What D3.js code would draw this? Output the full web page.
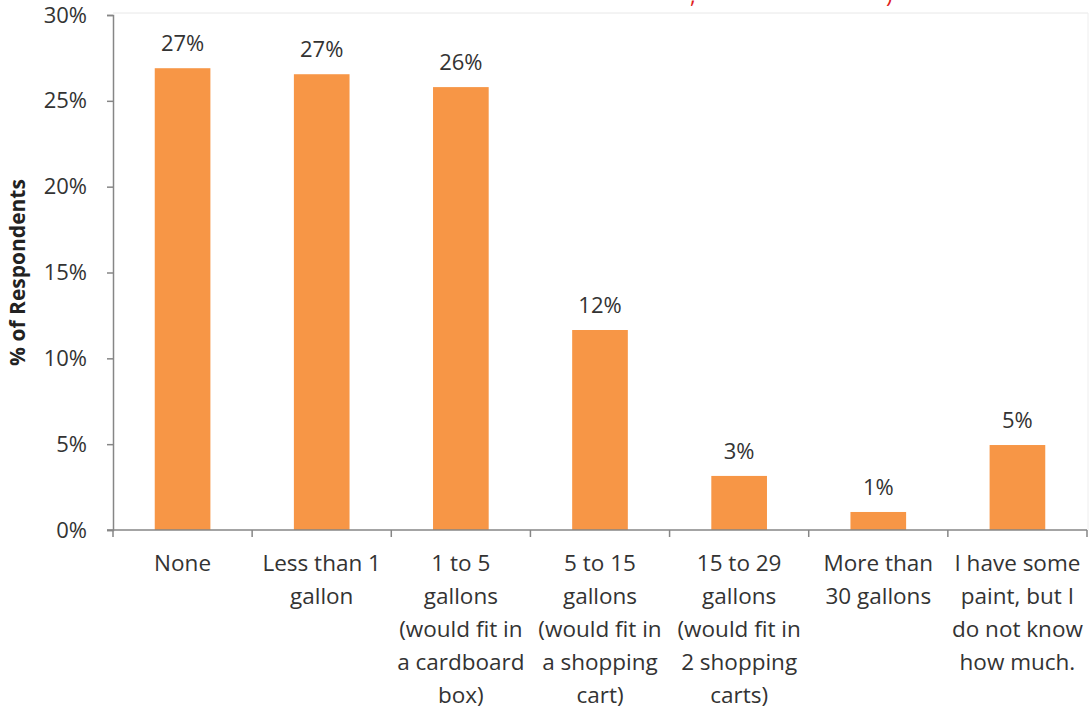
<!DOCTYPE html>
<html><head><meta charset="utf-8">
<script src="https://cdn.jsdelivr.net/npm/d3@7"></script>
<style>body{margin:0;background:#fff;}svg{display:block;}</style>
</head><body>
<script>
const categories = [
  ["None"],
  ["Less than 1", "gallon"],
  ["1 to 5", "gallons", "(would fit in", "a cardboard", "box)"],
  ["5 to 15", "gallons", "(would fit in", "a shopping", "cart)"],
  ["15 to 29", "gallons", "(would fit in", "2 shopping", "carts)"],
  ["More than", "30 gallons"],
  ["I have some", "paint, but I", "do not know", "how much."]
];
const values = [26.9, 26.55, 25.8, 11.65, 3.15, 1.05, 4.95];
const valueLabels = ["27%", "27%", "26%", "12%", "3%", "1%", "5%"];
const yTicks = [0, 5, 10, 15, 20, 25, 30];
const yTitle = "% of Respondents";

const W = 1090, H = 709;
const m = {left: 113, right: 3, top: 15, bottom: 179};
const font = "'Open Sans', sans-serif";
const svg = d3.select("body").append("svg").attr("width", W).attr("height", H);

const x = d3.scaleBand().domain(d3.range(categories.length)).range([m.left, W - m.right]).paddingInner(0.6).paddingOuter(0.3);
const y = d3.scaleLinear().domain([0, 30]).range([H - m.bottom, m.top]);

// faint plot border
svg.append("line").attr("x1", m.left).attr("x2", W - 2).attr("y1", m.top - 2).attr("y2", m.top - 2).attr("stroke", "#e8e8e8");
svg.append("line").attr("x1", W - 2).attr("x2", W - 2).attr("y1", m.top - 2).attr("y2", H - m.bottom).attr("stroke", "#eeeeee");

// red title fragments (cut off at the top edge, as in the reference)
svg.append("text").attr("x", 690).attr("y", 3).attr("font-family", font).attr("font-size", 22).attr("fill", "#e02020").text(",");
svg.append("text").attr("x", 886).attr("y", 3).attr("font-family", font).attr("font-size", 22).attr("fill", "#e02020").text(")");

// bars
svg.selectAll("rect.bar").data(values).join("rect").attr("class", "bar")
  .attr("x", (d, i) => x(i)).attr("width", x.bandwidth())
  .attr("y", d => y(d)).attr("height", d => y(0) - y(d))
  .attr("fill", "#F79646");

// value labels
svg.selectAll("text.val").data(values).join("text").attr("class", "val")
  .attr("x", (d, i) => x(i) + x.bandwidth() / 2).attr("y", d => y(d) - 17)
  .attr("text-anchor", "middle").attr("font-family", font).attr("font-size", 22).attr("fill", "#333")
  .text((d, i) => valueLabels[i]);

// y axis
const yAxis = svg.append("g").attr("transform", `translate(${m.left},0)`)
  .call(d3.axisLeft(y).tickValues(yTicks).tickFormat(d => d + "%").tickSize(6).tickPadding(20));
yAxis.select(".domain").attr("stroke", "#868686").attr("stroke-width", 1.5);
yAxis.selectAll(".tick line").attr("stroke", "#868686").attr("stroke-width", 1.5);
yAxis.selectAll(".tick text").attr("font-family", font).attr("font-size", 22).attr("fill", "#333");

// x axis
const bounds = d3.range(categories.length + 1).map(i => m.left + (W - m.right - m.left) * i / categories.length);
svg.append("line").attr("x1", m.left - 6).attr("x2", W - m.right).attr("y1", y(0)).attr("y2", y(0)).attr("stroke", "#868686").attr("stroke-width", 1.5);
svg.selectAll("line.xt").data(bounds).join("line").attr("class", "xt")
  .attr("x1", d => d).attr("x2", d => d).attr("y1", y(0)).attr("y2", y(0) + 7)
  .attr("stroke", "#868686").attr("stroke-width", 1.5);

const lab = svg.selectAll("text.cat").data(categories).join("text").attr("class", "cat")
  .attr("x", (d, i) => x(i) + x.bandwidth() / 2).attr("y", y(0) + 41)
  .attr("text-anchor", "middle").attr("font-family", font).attr("font-size", 22.5).attr("fill", "#333");
lab.each(function(lines, i) {
  d3.select(this).selectAll("tspan").data(lines).join("tspan")
    .attr("x", x(i) + x.bandwidth() / 2).attr("dy", (d, j) => j === 0 ? 0 : 33).text(d => d);
});

// y title
svg.append("text").attr("transform", `translate(25,${(y(0) + y(30)) / 2}) rotate(-90)`)
  .attr("text-anchor", "middle").attr("font-family", font).attr("font-weight", "bold").attr("font-size", 21).attr("fill", "#222")
  .text(yTitle);
</script>
</body></html>
